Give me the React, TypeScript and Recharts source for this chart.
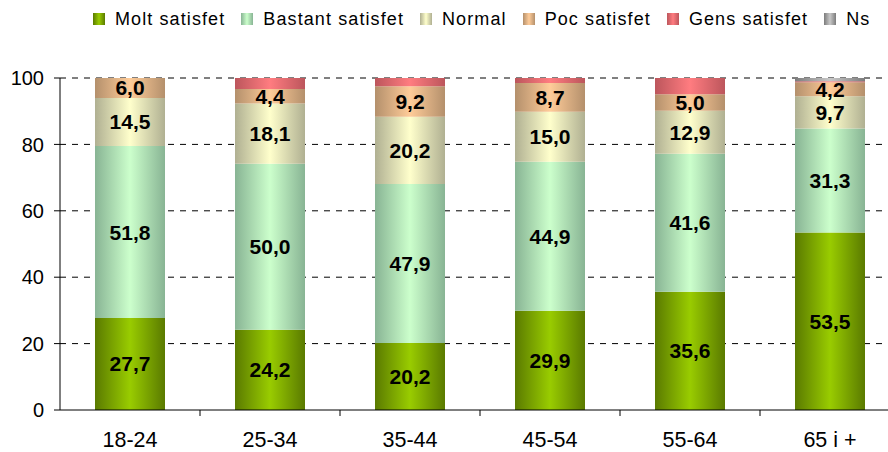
import { Bar, BarChart, CartesianGrid, LabelList, XAxis, YAxis } from 'recharts'

const categories = ['18-24', '25-34', '35-44', '45-54', '55-64', '65 i +']
const moltSatisfet = [27.7, 24.2, 20.2, 29.9, 35.6, 53.5]
const bastantSatisfet = [51.8, 50.0, 47.9, 44.9, 41.6, 31.3]
const normal = [14.5, 18.1, 20.2, 15.0, 12.9, 9.7]
const pocSatisfet = [6.0, 4.4, 9.2, 8.7, 5.0, 4.2]
const gensSatisfet = [0, 3.3, 2.5, 1.5, 4.9, 0.3]
const ns = [0, 0, 0, 0, 0, 1.0]
const yTicks = [0, 20, 40, 60, 80, 100]

const series = [
  { key: 'molt', name: 'Molt satisfet', values: moltSatisfet, edge: '#5a7a00', mid: '#99cc00', label: true },
  { key: 'bastant', name: 'Bastant satisfet', values: bastantSatisfet, edge: '#88b494', mid: '#ccffcc', label: true },
  { key: 'normal', name: 'Normal', values: normal, edge: '#b0b092', mid: '#ffffcc', label: true },
  { key: 'poc', name: 'Poc satisfet', values: pocSatisfet, edge: '#b4906c', mid: '#ffcc99', label: true },
  { key: 'gens', name: 'Gens satisfet', values: gensSatisfet, edge: '#bc565c', mid: '#ff7c80', label: false },
  { key: 'ns', name: 'Ns', values: ns, edge: '#7c7c7c', mid: '#c8c8c8', label: false },
]

const data = categories.map((cat, i) => {
  const row: Record<string, string | number> = { cat }
  series.forEach((s) => {
    row[s.key] = s.values[i]
  })
  return row
})

const FONT = '"Liberation Sans", Arial, sans-serif'
const CHART_W = 910
const CHART_H = 452
const MARGIN = { top: 78, right: 10, left: 0, bottom: 12 }
const Y_W = 60
const BAND = (CHART_W - MARGIN.left - MARGIN.right - Y_W) / categories.length

const fmt = (v: unknown) => (typeof v === 'number' && v > 0 ? v.toFixed(1).replace('.', ',') : '')

function CatTick(props: any) {
  const { x, y, payload } = props
  return (
    <g>
      <line x1={x + BAND / 2} x2={x + BAND / 2} y1={y - 8} y2={y - 2} stroke="#000" />
      <text x={x} y={y + 29} textAnchor="middle" fontSize={21.5} fontFamily={FONT} fill="#000">
        {payload.value}
      </text>
    </g>
  )
}

export default function App() {
  return (
    <div
      style={{
        position: 'absolute',
        left: 0,
        top: 0,
        width: 888,
        height: 452,
        overflow: 'hidden',
        background: '#fff',
        fontFamily: FONT,
      }}
    >
      <div
        style={{
          position: 'absolute',
          top: 8,
          left: 93,
          display: 'flex',
          alignItems: 'center',
          fontSize: 18,
          letterSpacing: 1.1,
          whiteSpace: 'nowrap',
          color: '#000',
          lineHeight: '22px',
        }}
      >
        {series.map((s) => (
          <span key={s.key} style={{ display: 'flex', alignItems: 'center', marginRight: 16 }}>
            <span
              style={{
                display: 'inline-block',
                width: 12,
                height: 12,
                marginRight: 10,
                background: `linear-gradient(to right, ${s.edge}, ${s.mid}, ${s.edge})`,
              }}
            />
            {s.name}
          </span>
        ))}
      </div>
      <BarChart width={CHART_W} height={CHART_H} data={data} margin={MARGIN} barCategoryGap="25%">
        <defs>
          {series.map((s) => (
            <linearGradient key={s.key} id={`g-${s.key}`} x1="0" y1="0" x2="1" y2="0">
              <stop offset="0%" stopColor={s.edge} />
              <stop offset="50%" stopColor={s.mid} />
              <stop offset="100%" stopColor={s.edge} />
            </linearGradient>
          ))}
        </defs>
        <CartesianGrid
          vertical={false}
          stroke="#000"
          strokeDasharray="6 6"
          horizontalValues={yTicks.slice(1)}
        />
        <XAxis
          dataKey="cat"
          axisLine={{ stroke: '#000' }}
          tickLine={false}
          tick={<CatTick />}
          height={30}
          interval={0}
        />
        <YAxis
          type="number"
          domain={[0, 100]}
          ticks={yTicks}
          width={Y_W}
          axisLine={{ stroke: '#000' }}
          tickLine={{ stroke: '#000' }}
          tickSize={6}
          tickMargin={10}
          tick={{ fontSize: 20, fontFamily: FONT, fill: '#000' }}
          interval={0}
        />
        {series.map((s) => (
          <Bar
            key={s.key}
            dataKey={s.key}
            name={s.name}
            stackId="a"
            fill={`url(#g-${s.key})`}
            isAnimationActive={false}
          >
            {s.label && (
              <LabelList
                dataKey={s.key}
                position="center"
                formatter={fmt}
                fill="#000"
                fontSize={21}
                fontWeight="bold"
                fontFamily={FONT}
              />
            )}
          </Bar>
        ))}
      </BarChart>
    </div>
  )
}
